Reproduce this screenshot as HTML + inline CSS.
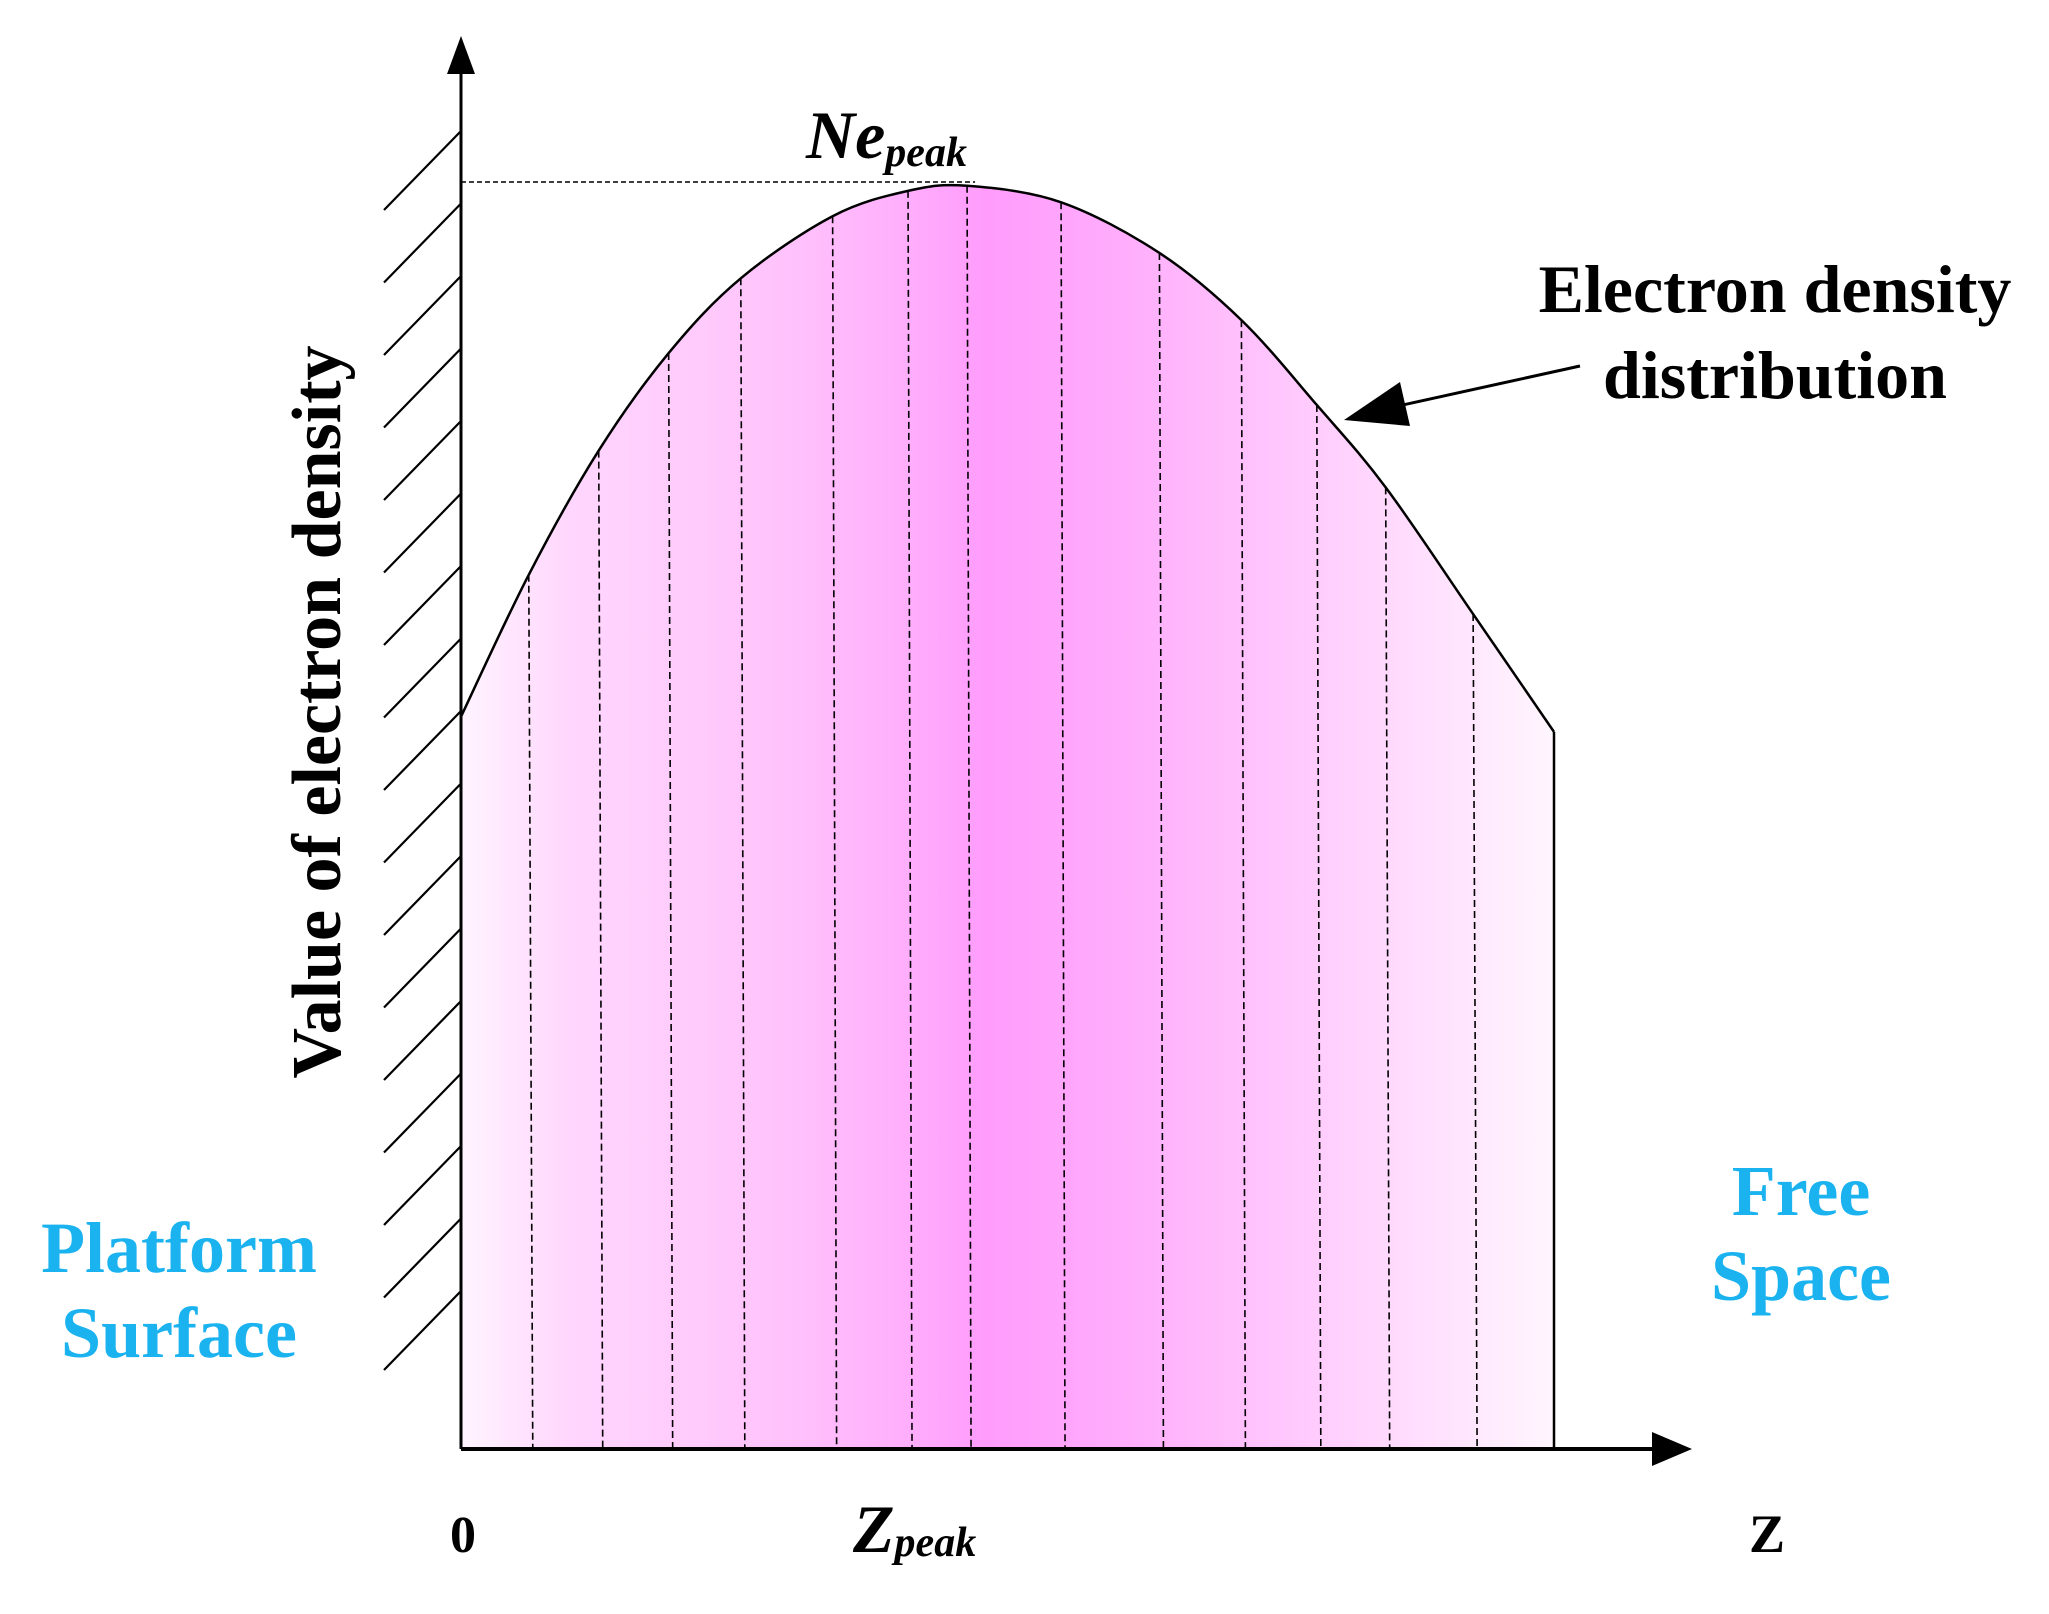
<!DOCTYPE html>
<html><head><meta charset="utf-8"><style>
html,body{margin:0;padding:0;background:#fff;}
svg{display:block;}
text{font-family:"Liberation Serif",serif;}
</style></head><body>
<svg id="chart" width="2049" height="1614" viewBox="0 0 2049 1614">
<defs>
<linearGradient id="g" x1="461" x2="1554" y1="0" y2="0" gradientUnits="userSpaceOnUse">
<stop offset="0" stop-color="#fff4fe"/>
<stop offset="0.1" stop-color="#ffd6fd"/>
<stop offset="0.3" stop-color="#ffc2fc"/>
<stop offset="0.4" stop-color="#ffb0fc"/>
<stop offset="0.48" stop-color="#ff9cfc"/>
<stop offset="0.6" stop-color="#ffacfc"/>
<stop offset="0.78" stop-color="#ffccfd"/>
<stop offset="1" stop-color="#fff6fe"/>
</linearGradient>
</defs>
<g id="hatch"></g>
<path id="area" fill="url(#g)" stroke="none"/>
<g id="dashes"></g>
<path id="curve" fill="none" stroke="#000" stroke-width="2.5"/>
<line id="rightEdge" stroke="#000" stroke-width="2.5"/>
<line id="peakLine" stroke="#000" stroke-width="1.5" stroke-dasharray="5,3"/>
<line x1="461" y1="1449" x2="461" y2="60" stroke="#000" stroke-width="3"/>
<polygon points="461,36 447,74 475,74" fill="#000"/>
<line x1="461" y1="1449" x2="1660" y2="1449" stroke="#000" stroke-width="4"/>
<polygon points="1692,1449 1652,1432 1652,1466" fill="#000"/>
<text x="806" y="158" font-size="68" font-style="italic" font-weight="bold">Ne<tspan font-size="42" dy="8">peak</tspan></text>
<text x="1775" y="312" font-size="68" font-weight="bold" text-anchor="middle">Electron density</text>
<text x="1775" y="398" font-size="68" font-weight="bold" text-anchor="middle">distribution</text>
<line x1="1580" y1="366" x2="1380" y2="410" stroke="#000" stroke-width="3"/>
<polygon points="1344,420 1400,382 1410,426" fill="#000"/>
<text transform="translate(340,712) rotate(-90)" font-size="70" font-weight="bold" text-anchor="middle">Value of electron density</text>
<text x="179" y="1272" font-size="72" font-weight="bold" fill="#1ab2ef" text-anchor="middle">Platform</text>
<text x="179" y="1357" font-size="72" font-weight="bold" fill="#1ab2ef" text-anchor="middle">Surface</text>
<text x="1801" y="1215" font-size="72" font-weight="bold" fill="#1ab2ef" text-anchor="middle">Free</text>
<text x="1801" y="1300" font-size="72" font-weight="bold" fill="#1ab2ef" text-anchor="middle">Space</text>
<text x="463" y="1552" font-size="52" font-weight="bold" text-anchor="middle">0</text>
<text x="853" y="1552" font-size="68" font-style="italic" font-weight="bold">Z<tspan font-size="42" dy="4">peak</tspan></text>
<text x="1767" y="1552" font-size="54" font-weight="bold" text-anchor="middle">Z</text>
</svg>
<script>
const zValues = [0, 6.2, 12.6, 19.0, 25.6, 34.0, 40.9, 46.3, 54.9, 63.9, 71.4, 78.3, 84.6, 92.6, 100];
const neValues = [57.8, 69.0, 78.8, 86.5, 92.4, 97.3, 99.3, 99.7, 98.4, 94.4, 89.1, 82.4, 75.9, 65.9, 56.6];
const nePeak = 100;
const hatchCount = 17;

const X0 = 461, X1 = 1554, Y0 = 1449, Y1 = 182;
function xs(z){ return X0 + z/100*(X1-X0); }
function ys(n){ return Y0 - n/100*(Y0-Y1); }
const NS = "http://www.w3.org/2000/svg";
const pts = zValues.map((z,i)=>[xs(z), ys(neValues[i])]);
let d = "M" + pts[0][0] + "," + pts[0][1];
for (let i=0;i<pts.length-1;i++){
  const p0 = pts[Math.max(0,i-1)], p1 = pts[i], p2 = pts[i+1], p3 = pts[Math.min(pts.length-1,i+2)];
  const c1 = [p1[0]+(p2[0]-p0[0])/6, p1[1]+(p2[1]-p0[1])/6];
  const c2 = [p2[0]-(p3[0]-p1[0])/6, p2[1]-(p3[1]-p1[1])/6];
  d += " C"+c1[0]+","+c1[1]+" "+c2[0]+","+c2[1]+" "+p2[0]+","+p2[1];
}
document.getElementById('curve').setAttribute('d', d);
const last = pts[pts.length-1];
document.getElementById('area').setAttribute('d', d + " L"+last[0]+","+Y0+" L"+X0+","+Y0+" Z");
const re = document.getElementById('rightEdge');
re.setAttribute('x1', last[0]); re.setAttribute('x2', last[0]);
re.setAttribute('y1', last[1]); re.setAttribute('y2', Y0);
const pl = document.getElementById('peakLine');
pl.setAttribute('x1', X0); pl.setAttribute('x2', xs(zValues[7])+8);
pl.setAttribute('y1', ys(nePeak)); pl.setAttribute('y2', ys(nePeak));
const dg = document.getElementById('dashes');
for (let i=1;i<pts.length-1;i++){
  const l = document.createElementNS(NS,'line');
  
  
  l.setAttribute('x1', pts[i][0]); l.setAttribute('x2', pts[i][0]+4);
  l.setAttribute('y1', pts[i][1]); l.setAttribute('y2', Y0);
  l.setAttribute('stroke', '#000'); l.setAttribute('stroke-width', '1.6');
  l.setAttribute('stroke-dasharray', '7,4');
  dg.appendChild(l);
}
const hg = document.getElementById('hatch');
for (let k=0;k<hatchCount;k++){
  const yTop = 131 + k*72.5;
  const l = document.createElementNS(NS,'line');
  
  
  l.setAttribute('x1', 461); l.setAttribute('y1', yTop);
  l.setAttribute('x2', 384); l.setAttribute('y2', yTop+79);
  l.setAttribute('stroke', '#000'); l.setAttribute('stroke-width', '2.2');
  hg.appendChild(l);
}
</script>
</body></html>
